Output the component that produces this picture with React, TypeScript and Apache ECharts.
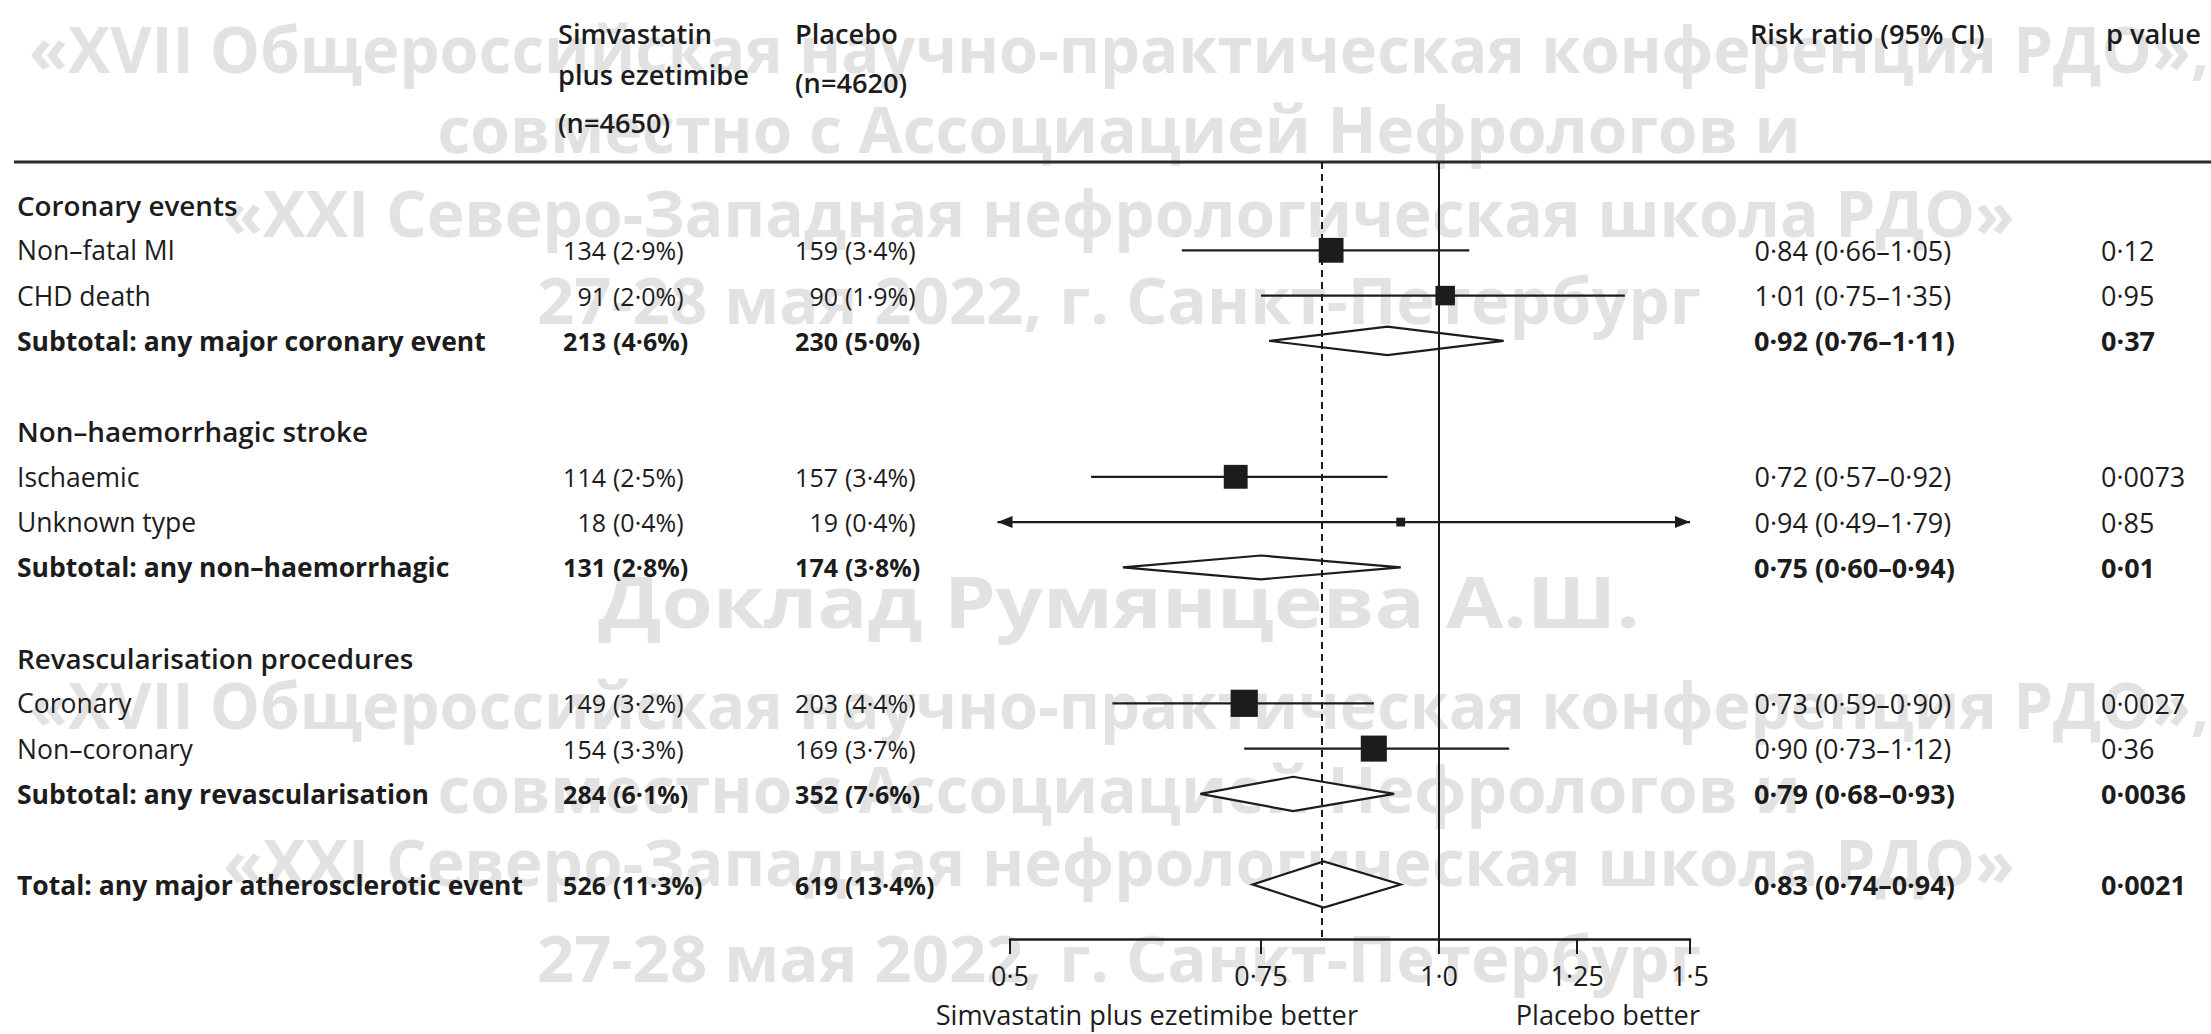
import React, { useEffect, useRef } from "react";
import * as echarts from "echarts";

// ---------- data ----------
const rowLabels = [
  "Coronary events",
  "Non–fatal MI",
  "CHD death",
  "Subtotal: any major coronary event",
  "",
  "Non–haemorrhagic stroke",
  "Ischaemic",
  "Unknown type",
  "Subtotal: any non–haemorrhagic",
  "",
  "Revascularisation procedures",
  "Coronary",
  "Non–coronary",
  "Subtotal: any revascularisation",
  "",
  "Total: any major atherosclerotic event",
];
// 0 = section head, 1 = item, 2 = subtotal / total, 3 = gap
const rowKinds = [0, 1, 1, 2, 3, 0, 1, 1, 2, 3, 0, 1, 1, 2, 3, 2];
const simvEvents = [null, 134, 91, 213, null, null, 114, 18, 131, null, null, 149, 154, 284, null, 526];
const simvPct = ["", "2·9%", "2·0%", "4·6%", "", "", "2·5%", "0·4%", "2·8%", "", "", "3·2%", "3·3%", "6·1%", "", "11·3%"];
const placeboEvents = [null, 159, 90, 230, null, null, 157, 19, 174, null, null, 203, 169, 352, null, 619];
const placeboPct = ["", "3·4%", "1·9%", "5·0%", "", "", "3·4%", "0·4%", "3·8%", "", "", "4·4%", "3·7%", "7·6%", "", "13·4%"];
const riskRatio = [null, 0.84, 1.01, 0.92, null, null, 0.72, 0.94, 0.75, null, null, 0.73, 0.9, 0.79, null, 0.83];
const ciLow = [null, 0.66, 0.75, 0.76, null, null, 0.57, 0.49, 0.6, null, null, 0.59, 0.73, 0.68, null, 0.74];
const ciHigh = [null, 1.05, 1.35, 1.11, null, null, 0.92, 1.79, 0.94, null, null, 0.9, 1.12, 0.93, null, 0.94];
const pValues = ["", "0·12", "0·95", "0·37", "", "", "0·0073", "0·85", "0·01", "", "", "0·0027", "0·36", "0·0036", "", "0·0021"];
const xTicks = [0.5, 0.75, 1.0, 1.25, 1.5];
const xTickLabels = ["0·5", "0·75", "1·0", "1·25", "1·5"];
const overallRR = 0.83;
const nullRR = 1.0;
const axisMin = 0.5;
const axisMax = 1.5;
const ciDrawMin = 0.49;
const ciDrawMax = 1.5;

const headerSimv = ["Simvastatin", "plus ezetimibe", "(n=4650)"];
const headerPlacebo = ["Placebo", "(n=4620)"];
const headerRR = "Risk ratio (95% CI)";
const headerP = "p value";
const leftCaption = "Simvastatin plus ezetimibe better";
const rightCaption = "Placebo better";

const watermarkLines = [
  "«XVII Общероссийская научно-практическая конференция РДО»,",
  "совместно с Ассоциацией Нефрологов и",
  "«XXI Северо-Западная нефрологическая школа РДО»",
  "27-28 мая 2022, г. Санкт-Петербург",
  "Доклад Румянцева А.Ш.",
  "«XVII Общероссийская научно-практическая конференция РДО»,",
  "совместно с Ассоциацией Нефрологов и",
  "«XXI Северо-Западная нефрологическая школа РДО»",
  "27-28 мая 2022, г. Санкт-Петербург",
];

// ---------- layout / style ----------
const W = 2211;
const H = 1034;
const FONT = "'Open Sans', 'Noto Sans', sans-serif";
const TXT = "#1c1c1c";
const FS_LABEL = 26.5;
const FS_SECTION = 27.8;
const FS_COUNT = 25;
const FS_RR = 27;
const FS_HEAD = 27.2;
const wmY = [48, 128, 212, 299, 600, 704, 788, 861, 957];
const wmSize = [64, 64, 64, 64, 72, 64, 64, 64, 64];
const wmScaleX = [0.99, 1, 1, 1.02, 1.15, 0.99, 1, 1, 1.02];

const fmt = (v: number) => v.toFixed(2).replace(".", "·");

export default function App() {
  const ref = useRef<HTMLDivElement>(null);

  useEffect(() => {
    document.body.style.margin = "0";
    const chart = echarts.init(ref.current!, null, { renderer: "svg" });
    const ln = Math.log;

    const markerData: any[] = [];
    riskRatio.forEach((rr, i) => {
      if (rr == null) return;
      const ev = (simvEvents[i] || 0) + (placeboEvents[i] || 0);
      markerData.push([ln(rr), i, ln(ciLow[i] as number), ln(ciHigh[i] as number), ev, rowKinds[i] === 2 ? 1 : 0]);
    });

    const weightOf = (k: number) => (k === 2 ? "bold" : k === 0 ? 600 : "normal");

    const txt = (text: string, x: number, y: number, align: string, weight: any, size: number) => ({
      type: "text",
      x,
      y,
      style: {
        text,
        fill: TXT,
        fontSize: size,
        fontFamily: FONT,
        fontWeight: weight,
        textAlign: align,
        textVerticalAlign: "middle",
      },
    });

    const graphics: any[] = [];
    watermarkLines.forEach((t, i) => {
      graphics.push({
        type: "text",
        z: -1,
        x: 1119,
        y: wmY[i],
        scaleX: wmScaleX[i],
        style: {
          text: t,
          fill: "#e2e2e2",
          fontSize: wmSize[i],
          fontFamily: FONT,
          fontWeight: "bold",
          textAlign: "center",
          textVerticalAlign: "middle",
        },
      });
    });
    graphics.push({
      type: "line",
      z: 5,
      shape: { x1: 14, y1: 162, x2: W, y2: 162 },
      style: { stroke: "#2a2a2a", lineWidth: 3 },
    });
    const hdrY1 = [33, 74, 122];
    headerSimv.forEach((t, i) => graphics.push({ ...txt(t, 558, hdrY1[i], "left", 600, FS_HEAD), z: 5 }));
    const hdrY2 = [33, 82];
    headerPlacebo.forEach((t, i) => graphics.push({ ...txt(t, 795, hdrY2[i], "left", 600, FS_HEAD), z: 5 }));
    graphics.push({ ...txt(headerRR, 1750, 33, "left", 600, FS_HEAD), z: 5 });
    graphics.push({ ...txt(headerP, 2106, 33, "left", 600, FS_HEAD), z: 5 });
    graphics.push({ ...txt(leftCaption, 1358, 1014, "right", "normal", FS_HEAD), z: 5 });
    graphics.push({ ...txt(rightCaption, 1700, 1014, "right", "normal", FS_HEAD), z: 5 });

    const option: any = {
      animation: false,
      backgroundColor: "#ffffff",
      graphic: { elements: graphics },
      grid: { left: 1010, right: W - 1690, top: 162, bottom: H - 939, containLabel: false, outerBoundsMode: "none" },
      xAxis: {
        type: "value",
        position: "bottom",
        min: ln(axisMin),
        max: ln(axisMax),
        splitLine: { show: false },
        axisLine: { show: true, onZero: false, lineStyle: { color: TXT, width: 2.5 } },
        axisTick: {
          show: true,
          customValues: xTicks.map((v) => ln(v)),
          length: 15,
          inside: false,
          lineStyle: { color: TXT, width: 2 },
        },
        axisLabel: {
          customValues: xTicks.map((v) => ln(v)),
          formatter: (v: number) => {
            let best = 0;
            xTicks.forEach((t, i) => {
              if (Math.abs(ln(t) - v) < Math.abs(ln(xTicks[best]) - v)) best = i;
            });
            return xTickLabels[best];
          },
          margin: 23,
          color: TXT,
          fontSize: FS_RR,
          fontFamily: FONT,
        },
      },
      yAxis: {
        type: "value",
        inverse: true,
        min: -0.949,
        max: 16.203,
        show: false,
      },
      series: [
        {
          type: "custom",
          name: "table",
          clip: false,
          silent: true,
          z: 3,
          data: rowLabels.map((_, i) => [0, i]),
          renderItem: (params: any, api: any) => {
            const i = api.value(1);
            const k = rowKinds[i];
            if (k === 3) return { type: "group", children: [] };
            const y = api.coord([0, i])[1];
            const w = weightOf(k);
            const ch: any[] = [txt(rowLabels[i], 17, y, "left", w, k === 0 ? FS_SECTION : FS_LABEL)];
            if (simvEvents[i] != null) {
              ch.push(txt(String(simvEvents[i]), 606, y, "right", w, FS_COUNT));
              ch.push(txt("(" + simvPct[i] + ")", 613, y, "left", w, FS_COUNT));
              ch.push(txt(String(placeboEvents[i]), 838, y, "right", w, FS_COUNT));
              ch.push(txt("(" + placeboPct[i] + ")", 845, y, "left", w, FS_COUNT));
            }
            if (riskRatio[i] != null) {
              ch.push(txt(fmt(riskRatio[i] as number), 1808, y, "right", w, FS_RR));
              ch.push(
                txt("(" + fmt(ciLow[i] as number) + "–" + fmt(ciHigh[i] as number) + ")", 1815, y, "left", w, FS_RR)
              );
              ch.push(txt(pValues[i], 2101, y, "left", w, FS_RR));
            }
            return { type: "group", children: ch };
          },
        },
        {
          type: "custom",
          name: "effects",
          clip: false,
          silent: true,
          z: 4,
          data: markerData,
          renderItem: (params: any, api: any) => {
            const est = api.value(0);
            const row = api.value(1);
            const lo = api.value(2);
            const hi = api.value(3);
            const ev = api.value(4);
            const kind = api.value(5);
            const [cx, cy] = api.coord([est, row]);
            if (kind === 1) {
              const xl = api.coord([lo, row])[0];
              const xh = api.coord([hi, row])[0];
              const hh = 0.68 * Math.sqrt(ev);
              return {
                type: "polygon",
                shape: { points: [[xl, cy], [cx, cy - hh], [xh, cy], [cx, cy + hh]] },
                style: { fill: "#ffffff", stroke: TXT, lineWidth: 2.2 },
              };
            }
            const loC = Math.max(lo, ln(ciDrawMin));
            const hiC = Math.min(hi, ln(ciDrawMax));
            const xl = api.coord([loC, row])[0];
            const xh = api.coord([hiC, row])[0];
            const s = 1.45 * Math.sqrt(ev);
            const ch: any[] = [
              { type: "line", shape: { x1: xl, y1: cy, x2: xh, y2: cy }, style: { stroke: TXT, lineWidth: 2.2 } },
            ];
            if (lo < ln(axisMin)) {
              ch.push({
                type: "polygon",
                shape: { points: [[xl, cy], [xl + 15, cy - 6], [xl + 15, cy + 6]] },
                style: { fill: TXT },
              });
            }
            if (hi > ln(axisMax)) {
              ch.push({
                type: "polygon",
                shape: { points: [[xh, cy], [xh - 15, cy - 6], [xh - 15, cy + 6]] },
                style: { fill: TXT },
              });
            }
            ch.push({
              type: "rect",
              shape: { x: cx - s / 2, y: cy - s / 2, width: s, height: s },
              style: { fill: TXT },
            });
            return { type: "group", children: ch };
          },
          markLine: {
            silent: true,
            symbol: ["none", "none"],
            label: { show: false },
            animation: false,
            data: [
              { xAxis: ln(nullRR), lineStyle: { color: TXT, width: 2, type: "solid" } },
              { xAxis: ln(overallRR), lineStyle: { color: TXT, width: 2, type: [7, 5] } },
            ],
          },
        },
      ],
    };

    chart.setOption(option);
    return () => chart.dispose();
  }, []);

  return <div ref={ref} style={{ width: W, height: H }} />;
}
